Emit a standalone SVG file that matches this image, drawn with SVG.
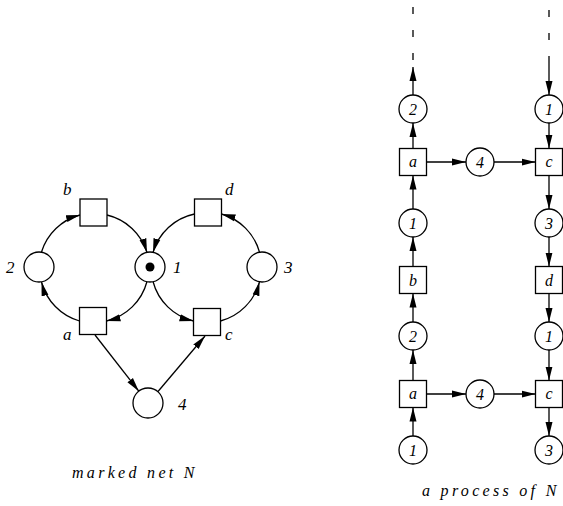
<svg xmlns="http://www.w3.org/2000/svg" width="563" height="506" viewBox="0 0 563 506">
<style>
.n{fill:#fff;stroke:#000;stroke-width:1.3}
.e{fill:none;stroke:#000;stroke-width:1.3}
.t{font-family:"Liberation Serif","DejaVu Serif",serif;font-style:italic;font-size:17px;fill:#000}
.s{font-family:"Liberation Serif","DejaVu Serif",serif;font-style:italic;font-size:16px;fill:#000;text-anchor:middle}
.cap{font-family:"Liberation Serif","DejaVu Serif",serif;font-style:italic;font-size:16px;fill:#000;letter-spacing:3.3px}
</style>
<defs>
<marker id="ah" markerUnits="userSpaceOnUse" markerWidth="15" markerHeight="9" refX="14" refY="4.5" orient="auto">
<path d="M0,1 L14,4.5 L0,8 Z" fill="#000"/>
</marker>
</defs>
<rect width="563" height="506" fill="#fff"/>

<!-- ===== marked net N ===== -->
<g id="net-edges" class="e">
<path class="e" d="M41.5,252 A55,55 0 0,1 80,215" marker-end="url(#ah)"/>
<path class="e" d="M107,215 A55,55 0 0,1 147,252.5" marker-end="url(#ah)"/>
<path class="e" d="M147,281.5 A55,55 0 0,1 106.5,321" marker-end="url(#ah)"/>
<path class="e" d="M79.5,321 A55,55 0 0,1 41.5,282" marker-end="url(#ah)"/>
<path class="e" d="M153,281.5 A55,55 0 0,0 193.5,321" marker-end="url(#ah)"/>
<path class="e" d="M220.5,321 A55,55 0 0,0 259.5,281.8" marker-end="url(#ah)"/>
<path class="e" d="M259.5,252.2 A55,55 0 0,0 221.5,214" marker-end="url(#ah)"/>
<path class="e" d="M194.5,214 A55,55 0 0,0 153,252.5" marker-end="url(#ah)"/>
<path class="e" d="M95,335 L138.8,391.2" marker-end="url(#ah)"/>
<path class="e" d="M158,391.5 L205,336" marker-end="url(#ah)"/>
</g>
<g id="net-p2"><circle class="n" cx="39" cy="267" r="15"/><text class="t" x="6" y="273">2</text></g>
<g id="net-p1"><circle class="n" cx="150" cy="267" r="15"/><circle cx="150" cy="267" r="4.5" fill="#000"/><text class="t" x="173" y="273">1</text></g>
<g id="net-p3"><circle class="n" cx="262" cy="267" r="15"/><text class="t" x="284" y="273">3</text></g>
<g id="net-p4"><circle class="n" cx="148" cy="403" r="15"/><text class="t" x="178" y="410">4</text></g>
<g id="net-tb"><rect class="n" x="80" y="199" width="27" height="27"/><text class="t" x="63" y="195">b</text></g>
<g id="net-td"><rect class="n" x="194.5" y="199" width="27" height="27"/><text class="t" x="225" y="195">d</text></g>
<g id="net-ta"><rect class="n" x="79.5" y="307.5" width="27" height="27"/><text class="t" x="63" y="340">a</text></g>
<g id="net-tc"><rect class="n" x="193.5" y="308.5" width="27" height="27"/><text class="t" x="225" y="340">c</text></g>
<text class="cap" x="72" y="478">marked net  N</text>

<!-- ===== a process of N ===== -->
<g id="proc-edges">
<line class="e" x1="413" y1="60" x2="413" y2="0" stroke-dasharray="7 16"/>
<line class="e" x1="413" y1="95" x2="413" y2="67" marker-end="url(#ah)"/>
<line class="e" x1="413" y1="148.5" x2="413" y2="123" marker-end="url(#ah)"/>
<line class="e" x1="413" y1="209" x2="413" y2="175.5" marker-end="url(#ah)"/>
<line class="e" x1="413" y1="266.5" x2="413" y2="237" marker-end="url(#ah)"/>
<line class="e" x1="413" y1="322" x2="413" y2="293.5" marker-end="url(#ah)"/>
<line class="e" x1="413" y1="380.5" x2="413" y2="350" marker-end="url(#ah)"/>
<line class="e" x1="413" y1="436" x2="413" y2="407.5" marker-end="url(#ah)"/>

<line class="e" x1="549" y1="63" x2="549" y2="0" stroke-dasharray="7 16"/>
<line class="e" x1="549" y1="63" x2="549" y2="95" marker-end="url(#ah)"/>
<line class="e" x1="549" y1="123" x2="549" y2="148.5" marker-end="url(#ah)"/>
<line class="e" x1="549" y1="175.5" x2="549" y2="209" marker-end="url(#ah)"/>
<line class="e" x1="549" y1="237" x2="549" y2="266.5" marker-end="url(#ah)"/>
<line class="e" x1="549" y1="293.5" x2="549" y2="322" marker-end="url(#ah)"/>
<line class="e" x1="549" y1="350" x2="549" y2="380.5" marker-end="url(#ah)"/>
<line class="e" x1="549" y1="407.5" x2="549" y2="436" marker-end="url(#ah)"/>

<line class="e" x1="426.5" y1="162" x2="466" y2="162" marker-end="url(#ah)"/>
<line class="e" x1="494" y1="162" x2="535.5" y2="162" marker-end="url(#ah)"/>
<line class="e" x1="426.5" y1="394" x2="466" y2="394" marker-end="url(#ah)"/>
<line class="e" x1="494" y1="394" x2="535.5" y2="394" marker-end="url(#ah)"/>
</g>
<g id="pr-L0"><circle class="n" cx="413" cy="109" r="14"/><text class="s" x="413" y="114.5">2</text></g>
<g id="pr-L1"><rect class="n" x="399.5" y="148.5" width="27" height="27"/><text class="s" x="413" y="167">a</text></g>
<g id="pr-L2"><circle class="n" cx="413" cy="223" r="14"/><text class="s" x="413" y="228.5">1</text></g>
<g id="pr-L3"><rect class="n" x="399.5" y="266.5" width="27" height="27"/><text class="s" x="413" y="285.5">b</text></g>
<g id="pr-L4"><circle class="n" cx="413" cy="336" r="14"/><text class="s" x="413" y="341.5">2</text></g>
<g id="pr-L5"><rect class="n" x="399.5" y="380.5" width="27" height="27"/><text class="s" x="413" y="399">a</text></g>
<g id="pr-L6"><circle class="n" cx="413" cy="450" r="14"/><text class="s" x="413" y="455.5">1</text></g>
<g id="pr-M1"><circle class="n" cx="480" cy="162" r="14"/><text class="s" x="480" y="167.5">4</text></g>
<g id="pr-M5"><circle class="n" cx="480" cy="394" r="14"/><text class="s" x="480" y="399.5">4</text></g>
<g id="pr-R0"><circle class="n" cx="549" cy="109" r="14"/><text class="s" x="549" y="114.5">1</text></g>
<g id="pr-R1"><rect class="n" x="535.5" y="148.5" width="27" height="27"/><text class="s" x="549" y="167">c</text></g>
<g id="pr-R2"><circle class="n" cx="549" cy="223" r="14"/><text class="s" x="549" y="228.5">3</text></g>
<g id="pr-R3"><rect class="n" x="535.5" y="266.5" width="27" height="27"/><text class="s" x="549" y="285.5">d</text></g>
<g id="pr-R4"><circle class="n" cx="549" cy="336" r="14"/><text class="s" x="549" y="341.5">1</text></g>
<g id="pr-R5"><rect class="n" x="535.5" y="380.5" width="27" height="27"/><text class="s" x="549" y="399">c</text></g>
<g id="pr-R6"><circle class="n" cx="549" cy="450" r="14"/><text class="s" x="549" y="455.5">3</text></g>
<text class="cap" x="422" y="496">a process of  N</text>
</svg>
